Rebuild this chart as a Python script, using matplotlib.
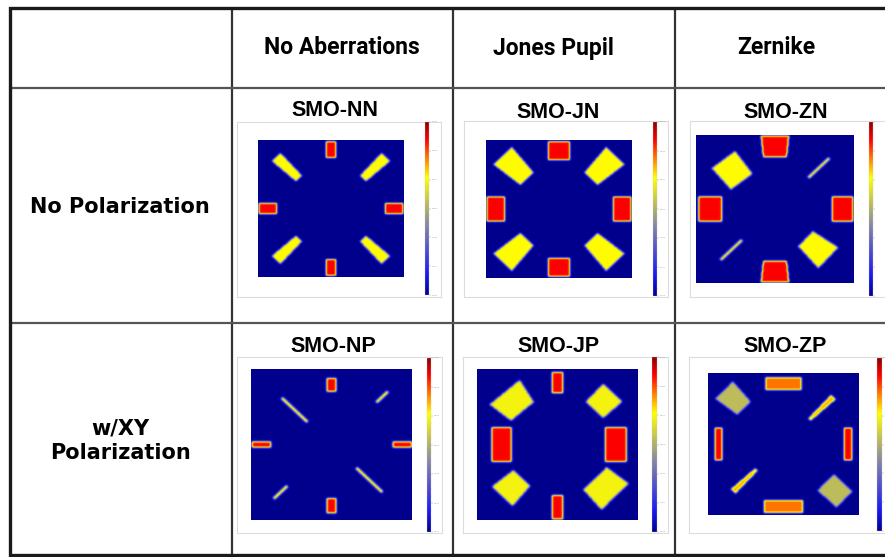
import numpy as np
import matplotlib
matplotlib.use("Agg")
from matplotlib import pyplot as plt
from matplotlib.colors import LinearSegmentedColormap, Normalize
from matplotlib.cm import ScalarMappable
from matplotlib.path import Path

W, H = 885, 557

COL_LABELS = ["No Aberrations", "Jones Pupil", "Zernike"]
ROW_LABELS = ["No Polarization", "w/XY\nPolarization"]
PANEL_TITLES = [["SMO-NN", "SMO-JN", "SMO-ZN"],
                ["SMO-NP", "SMO-JP", "SMO-ZP"]]

# source poles in pupil coords:
# (angle deg, r_in, r_out, w_in, w_out, level, tilt deg)
POLES_NN = [(90, 0.74, 0.98, 0.15, 0.15, 0.90, 0),
            (270, 0.74, 0.98, 0.15, 0.15, 0.90, 0),
            (180, 0.74, 0.99, 0.16, 0.16, 0.90, 0),
            (0, 0.74, 0.99, 0.16, 0.16, 0.90, 0),
            (45, 0.62, 1.07, 0.12, 0.17, 0.68, 0),
            (135, 0.62, 1.07, 0.12, 0.17, 0.68, 0),
            (225, 0.62, 1.07, 0.12, 0.17, 0.68, 0),
            (315, 0.62, 1.07, 0.12, 0.17, 0.68, 0)]
POLES_JN = [(90, 0.71, 0.98, 0.31, 0.31, 0.90, 0),
            (270, 0.71, 0.98, 0.31, 0.31, 0.90, 0),
            (180, 0.74, 0.99, 0.36, 0.36, 0.90, 0),
            (0, 0.74, 0.99, 0.36, 0.36, 0.90, 0),
            (45, 0.62, 1.10, 0.26, 0.36, 0.68, 0),
            (135, 0.62, 1.10, 0.26, 0.36, 0.68, 0),
            (225, 0.62, 1.10, 0.26, 0.36, 0.68, 0),
            (315, 0.62, 1.10, 0.26, 0.36, 0.68, 0)]
POLES_ZN = [(90, 0.70, 0.99, 0.30, 0.36, 0.90, 0),
            (270, 0.70, 0.99, 0.30, 0.36, 0.90, 0),
            (180, 0.67, 0.97, 0.34, 0.34, 0.90, 0),
            (0, 0.72, 0.99, 0.34, 0.34, 0.90, 0),
            (136, 0.56, 0.94, 0.35, 0.38, 0.68, -8),
            (315, 0.56, 0.95, 0.28, 0.38, 0.68, 3),
            (45, 0.60, 0.98, 0.035, 0.035, 0.72, 0),
            (225, 0.59, 0.98, 0.035, 0.035, 0.72, 0)]
POLES_NP = [(90, 0.70, 0.88, 0.12, 0.12, 0.90, 0),
            (270, 0.71, 0.91, 0.12, 0.12, 0.90, 0),
            (180, 0.75, 0.99, 0.08, 0.08, 0.90, 0),
            (0, 0.76, 1.00, 0.08, 0.08, 0.90, 0),
            (135, 0.42, 0.88, 0.04, 0.04, 0.75, 0),
            (315, 0.44, 0.90, 0.04, 0.04, 0.75, 0),
            (45, 0.79, 1.00, 0.04, 0.04, 0.75, 0),
            (225, 0.78, 1.02, 0.04, 0.04, 0.75, 0)]
POLES_JP = [(90, 0.68, 0.96, 0.15, 0.15, 0.90, 0),
            (270, 0.67, 0.99, 0.15, 0.15, 0.90, 0),
            (180, 0.57, 0.82, 0.46, 0.46, 0.90, 0),
            (0, 0.59, 0.86, 0.46, 0.46, 0.90, 0),
            (134, 0.62, 0.96, 0.38, 0.50, 0.655, -3),
            (45, 0.65, 0.98, 0.31, 0.34, 0.655, 0),
            (225, 0.63, 0.98, 0.30, 0.37, 0.655, 0),
            (316, 0.65, 1.00, 0.42, 0.49, 0.655, 0)]
POLES_ZP = [(90, 0.76, 0.94, 0.49, 0.49, 0.80, 0),
            (270, 0.79, 0.97, 0.52, 0.52, 0.80, 0),
            (180, 0.81, 0.91, 0.47, 0.47, 0.90, 0),
            (0, 0.80, 0.91, 0.47, 0.47, 0.90, 0),
            (136, 0.73, 1.10, 0.26, 0.34, 0.53, 0),
            (316, 0.78, 1.13, 0.32, 0.31, 0.53, 0),
            (45, 0.49, 0.94, 0.05, 0.09, 0.74, 0),
            (225, 0.51, 0.95, 0.05, 0.09, 0.74, 0)]
POLES = [[POLES_NN, POLES_JN, POLES_ZN],
         [POLES_NP, POLES_JP, POLES_ZP]]

# pixel boxes (x0, y0, x1, y1): frame, image, colorbar, title position
FRAMES = [[(237, 122, 441, 297), (464, 121, 668, 297), (690, 121, 890, 297)],
          [(237, 357, 442, 533), (463, 357, 668, 533), (689, 357, 890, 533)]]
IMAGES = [[(258, 140, 404, 277), (486, 140, 632, 278), (696, 135, 854, 283)],
          [(251, 369, 412, 520), (477, 369, 638, 520), (708, 373, 859, 515)]]
CBARS = [[(425, 122, 429, 295), (653, 122, 657, 296), (869, 122, 873, 296)],
         [(427, 358, 431, 532), (652, 357, 657, 532), (877, 358, 882, 531)]]
TITLE_XY = [[(335, 111), (558, 112), (786, 112)],
            [(333, 347), (558, 347), (785, 347)]]

COL_X = [10, 232, 453, 675]
ROW_Y = [8, 88, 323, 555]

CMAP = LinearSegmentedColormap.from_list("src", [
    (0.0, (0.0, 0.0, 0.55)),
    (0.12, (0.1, 0.1, 0.95)),
    (0.42, (0.55, 0.55, 0.62)),
    (0.68, (1.0, 1.0, 0.0)),
    (0.90, (1.0, 0.0, 0.0)),
    (1.0, (0.55, 0.0, 0.0))])


def px_rect(box):
    x0, y0, x1, y1 = box
    return [x0 / W, 1 - y1 / H, (x1 - x0) / W, (y1 - y0) / H]


def pole_polygon(angle, r_in, r_out, w_in, w_out, tilt):
    a = np.radians(angle)
    u = np.array([np.cos(a), np.sin(a)])
    t = np.array([-np.sin(a), np.cos(a)])
    pts = np.array([r_in * u - w_in / 2 * t, r_out * u - w_out / 2 * t,
                    r_out * u + w_out / 2 * t, r_in * u + w_in / 2 * t])
    c = pts.mean(axis=0)
    b = np.radians(tilt)
    rot = np.array([[np.cos(b), -np.sin(b)], [np.sin(b), np.cos(b)]])
    return (pts - c) @ rot.T + c


def source_map(poles, n=200, sigma=1.3):
    xs = np.linspace(-1, 1, n)
    gx, gy = np.meshgrid(xs, xs)
    pts = np.column_stack([gx.ravel(), gy.ravel()])
    field = np.zeros(n * n)
    for angle, r_in, r_out, w_in, w_out, level, tilt in poles:
        poly = pole_polygon(angle, r_in, r_out, w_in, w_out, tilt)
        inside = Path(poly).contains_points(pts)
        field = np.maximum(field, level * inside)
    field = field.reshape(n, n)
    k = np.arange(-4, 5)
    k = np.exp(-k ** 2 / (2 * sigma ** 2))
    k /= k.sum()
    field = np.apply_along_axis(lambda r: np.convolve(r, k, mode="same"), 0, field)
    field = np.apply_along_axis(lambda r: np.convolve(r, k, mode="same"), 1, field)
    return field


fig = plt.figure(figsize=(W / 100, H / 100), dpi=100)
fig.patch.set_facecolor("white")

for i in range(2):
    for j in range(3):
        fr = fig.add_axes(px_rect(FRAMES[i][j]))
        fr.set_xticks([])
        fr.set_yticks([])
        for s in fr.spines.values():
            s.set_color("#dcdcdc")
            s.set_linewidth(0.8)

        ax = fig.add_axes(px_rect(IMAGES[i][j]))
        ax.imshow(source_map(POLES[i][j]), cmap=CMAP, vmin=0, vmax=1,
                  extent=[-1, 1, -1, 1], origin="lower", aspect="auto",
                  interpolation="bilinear")
        ax.set_xticks([])
        ax.set_yticks([])
        for s in ax.spines.values():
            s.set_visible(False)

        cax = fig.add_axes(px_rect(CBARS[i][j]))
        cb = fig.colorbar(ScalarMappable(Normalize(0, 1), CMAP), cax=cax)
        cb.outline.set_linewidth(0.2)
        cb.outline.set_edgecolor("#cccccc")
        cb.set_ticks(np.linspace(0, 1, 7))
        if j < 2:
            cb.set_ticklabels([f"{v:.3f}" for v in np.linspace(0, 1, 7)])
        else:
            # right column runs off the page edge, so no labels there
            cb.set_ticklabels([])
        cax.tick_params(length=1.5, width=0.3, colors="#999999",
                        labelsize=1.5, pad=0.5)
        cax.minorticks_on()
        cax.tick_params(which="minor", length=0.8, width=0.2, colors="#bbbbbb")

# table grid and labels drawn in pixel space
tab = fig.add_axes([0, 0, 1, 1], zorder=5)
tab.set_xlim(0, W)
tab.set_ylim(H, 0)
tab.axis("off")
tab.patch.set_alpha(0)

for x in COL_X[1:]:
    tab.plot([x, x], [ROW_Y[0], ROW_Y[-1]], color="#333333", lw=1.6,
             solid_capstyle="butt")
for y in ROW_Y[1:3]:
    tab.plot([COL_X[0], W], [y, y], color="#555555", lw=1.6,
             solid_capstyle="butt")
tab.plot([W, COL_X[0], COL_X[0], W],
         [ROW_Y[0], ROW_Y[0], ROW_Y[-1], ROW_Y[-1]],
         color="#1a1a1a", lw=2.4, solid_joinstyle="miter")

col_cx = [342, 553, 776]
for x, lab in zip(col_cx, COL_LABELS):
    tab.text(x, 48, lab, ha="center", va="center", fontsize=16.5,
             fontweight="bold", family=["Roboto", "DejaVu Sans"])

tab.text(120, 207, ROW_LABELS[0], ha="center", va="center", fontsize=15,
         fontweight="bold", family="DejaVu Sans")
tab.text(120, 441, ROW_LABELS[1], ha="center", va="center", fontsize=15,
         fontweight="bold", family="DejaVu Sans", linespacing=1.3)

for i in range(2):
    for j in range(3):
        x, y = TITLE_XY[i][j]
        tab.text(x, y, PANEL_TITLES[i][j], ha="center", va="center",
                 fontsize=15.5, fontweight="bold", family="Liberation Sans")

fig.savefig("out.png", dpi=100)
